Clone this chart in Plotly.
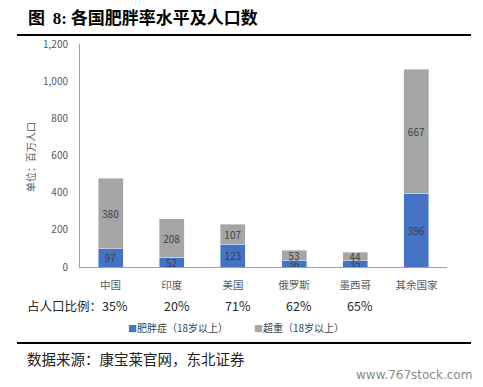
import plotly.graph_objects as go

categories = ["中国", "印度", "美国", "俄罗斯", "墨西哥", "其余国家"]
obese = [97, 52, 123, 36, 35, 396]
overweight = [380, 208, 107, 53, 44, 667]
ratios = ["35%", "20%", "71%", "62%", "65%", ""]
series_names = ["肥胖症（18岁以上）", "超重（18岁以上）"]
colors = ["#4472C4", "#A5A5A5"]

W, H = 483, 387
L, R, T, B = 80, 36, 44, 120
pw, ph = W - L - R, H - T - B

def px(x):
    return (x - L) / pw

def py(y):
    return (H - B - y) / ph

font = "Noto Sans CJK SC, Liberation Sans, sans-serif"

fig = go.Figure()
for vals, name, col in [(obese, series_names[0], colors[0]), (overweight, series_names[1], colors[1])]:
    fig.add_bar(x=categories, y=vals, name=name, marker_color=col,
                text=vals, textposition="inside", insidetextanchor="middle", textangle=0,
                textfont=dict(size=10, color="#404040"), width=0.41)

ann = [
    dict(x=px(26), y=py(16), xref="paper", yref="paper", xanchor="left", yanchor="middle",
         text="<b>图  <span style='font-family:Liberation Serif'>8:</span> 各国肥胖率水平及人口数</b>",
         showarrow=False, font=dict(size=17, color="#000", family=font)),
    dict(x=px(25), y=py(358), xref="paper", yref="paper", xanchor="left", yanchor="middle",
         text="数据来源：康宝莱官网，东北证券", showarrow=False,
         font=dict(size=14.5, color="#222", family=font)),
    dict(x=px(474), y=py(375), xref="paper", yref="paper", xanchor="right", yanchor="middle",
         text="www.767stock.com", showarrow=False,
         font=dict(size=12, color="#8a8a8a", family="DejaVu Sans")),
    dict(x=px(25), y=py(305), xref="paper", yref="paper", xanchor="left", yanchor="middle",
         text="占人口比例：", showarrow=False, font=dict(size=12.5, color="#262626", family=font)),
    dict(x=px(30), y=py(157), xref="paper", yref="paper", xanchor="center", yanchor="middle",
         text="单位：百万人口", textangle=-90, showarrow=False,
         font=dict(size=10, color="#595959", family=font)),
]
for i, r in enumerate(ratios):
    if r:
        ann.append(dict(x=i + 0.08, y=py(305), xref="x", yref="paper", xanchor="center",
                        yanchor="middle", text=r, showarrow=False,
                        font=dict(size=12.5, color="#262626", family=font)))
for xpos, name, col in [(126, series_names[0], colors[0]), (252, series_names[1], colors[1])]:
    ann.append(dict(x=px(xpos), y=py(327), xref="paper", yref="paper", xanchor="left",
                    yanchor="middle", showarrow=False,
                    text=f"<span style='color:{col};font-size:9px'>■</span>{name}",
                    font=dict(size=10, color="#404040", family=font)))

shapes = [
    dict(type="line", xref="paper", yref="paper", x0=px(17), x1=px(471), y0=py(35), y1=py(35),
         line=dict(color="#000", width=2)),
    dict(type="line", xref="paper", yref="paper", x0=px(17), x1=px(471), y0=py(343), y1=py(343),
         line=dict(color="#000", width=2)),
]

fig.update_layout(
    width=W, height=H, barmode="stack",
    margin=dict(l=L, r=R, t=T, b=B, autoexpand=False),
    paper_bgcolor="white", plot_bgcolor="white",
    font=dict(family=font, size=10, color="#595959"),
    uniformtext=dict(minsize=10, mode="show"),
    showlegend=False,
    annotations=ann, shapes=shapes,
    xaxis=dict(showline=True, linecolor="#A0A0A0", linewidth=1, ticks="",
               ticklabelstandoff=8, tickfont=dict(size=10.5, color="#595959")),
    yaxis=dict(range=[0, 1200], dtick=200, tickformat=",d", showgrid=False,
               showline=True, linecolor="#A0A0A0", linewidth=1, ticks="",
               ticklabelstandoff=9, tickfont=dict(size=10, color="#595959"), zeroline=False),
)

fig.write_html("out.html", post_script="document.body.style.margin='0';",
               config={"displayModeBar": False})
